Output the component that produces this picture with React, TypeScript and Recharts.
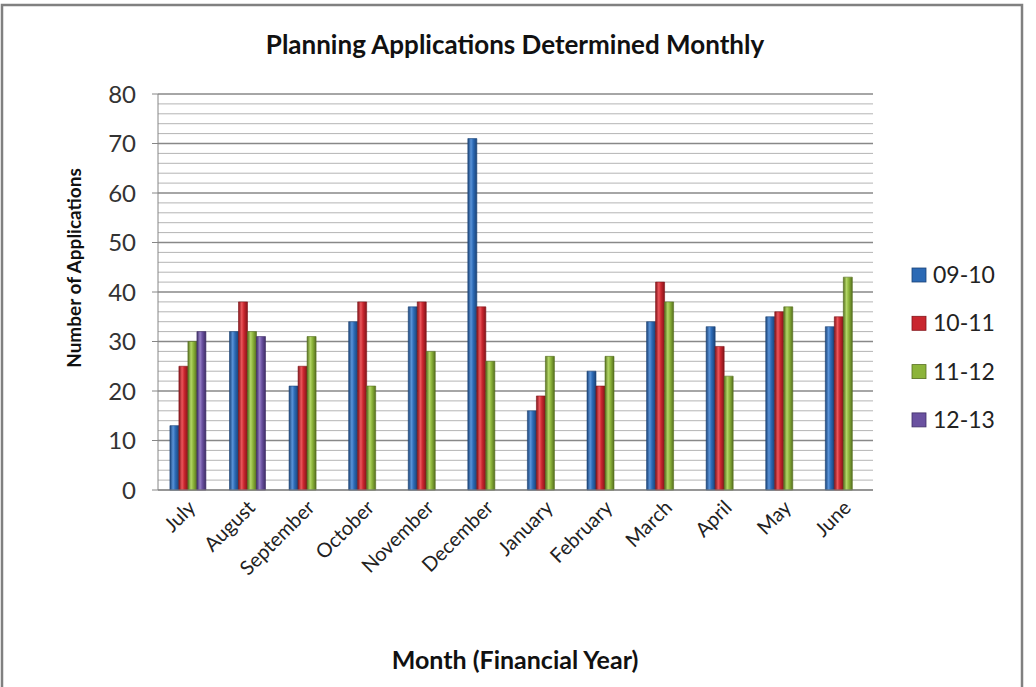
import { BarChart, Bar, XAxis, YAxis, CartesianGrid } from 'recharts'

const months = ['July', 'August', 'September', 'October', 'November', 'December', 'January', 'February', 'March', 'April', 'May', 'June']
const fy0910 = [13, 32, 21, 34, 37, 71, 16, 24, 34, 33, 35, 33]
const fy1011 = [25, 38, 25, 38, 38, 37, 19, 21, 42, 29, 36, 35]
const fy1112 = [30, 32, 31, 21, 28, 26, 27, 27, 38, 23, 37, 43]
const fy1213 = [32, 31, null, null, null, null, null, null, null, null, null, null]
const seriesNames = ['09-10', '10-11', '11-12', '12-13']
const yTicks = [0, 10, 20, 30, 40, 50, 60, 70, 80]
const minorLines = [2, 4, 6, 8, 12, 14, 16, 18, 22, 24, 26, 28, 32, 34, 36, 38, 42, 44, 46, 48, 52, 54, 56, 58, 62, 64, 66, 68, 72, 74, 76, 78]

const FONT = 'Lato, "Open Sans", sans-serif'
const colors = ['#2c6ab5', '#c9262e', '#8cb43a', '#6a51a0']
const darks = ['#1b4377', '#83141a', '#566f1f', '#3f2e66']
const lights = ['#5a93d8', '#ea565b', '#b2d566', '#9580c6']

const data = months.map((m, i) => ({
  month: m,
  a: fy0910[i],
  b: fy1011[i],
  c: fy1112[i],
  d: fy1213[i],
}))
const keys = ['a', 'b', 'c', 'd']

const MonthTick = ({ x, y, payload }: any) => (
  <g transform={`translate(${x + 4},${y + 14})`}>
    <text transform="rotate(-45)" textAnchor="end" dy="0.35em" fontSize={20} fill="#222" fontFamily={FONT}>
      {payload.value}
    </text>
  </g>
)

export default function App() {
  return (
    <div style={{ position: 'absolute', left: 0, top: 0, width: 1036, height: 687, background: '#fff', overflow: 'hidden' }}>
      <BarChart
        width={1036}
        height={687}
        data={data}
        margin={{ top: 94, right: 163, bottom: 0, left: 0 }}
        barCategoryGap="20%"
        barGap={0}
      >
        <defs>
          {keys.map((k, i) => (
            <linearGradient key={k} id={`g-${k}`} x1="0" y1="0" x2="1" y2="0">
              <stop offset="0%" stopColor={darks[i]} />
              <stop offset="35%" stopColor={lights[i]} />
              <stop offset="60%" stopColor={colors[i]} />
              <stop offset="100%" stopColor={darks[i]} />
            </linearGradient>
          ))}
        </defs>
        <CartesianGrid vertical={false} horizontalValues={minorLines} stroke="#b4b4b4" strokeWidth={1} />
        <CartesianGrid vertical={false} horizontalValues={yTicks} stroke="#888" strokeWidth={1.5} />
        <XAxis
          dataKey="month"
          interval={0}
          tick={<MonthTick />}
          tickLine={false}
          tickSize={0}
          tickMargin={0}
          axisLine={{ stroke: '#868686' }}
          height={197}
        />
        <YAxis
          domain={[0, 80]}
          ticks={yTicks}
          interval={0}
          width={158}
          tickSize={6}
          tickMargin={16}
          tick={{ fontSize: 24, fill: '#333', fontFamily: FONT }}
          tickLine={{ stroke: '#868686' }}
          axisLine={{ stroke: '#868686' }}
        />
        {keys.map((k, i) => (
          <Bar key={k} dataKey={k} name={seriesNames[i]} fill={`url(#g-${k})`} stroke={darks[i]} strokeWidth={0.6} isAnimationActive={false} />
        ))}
      </BarChart>
      <svg width={1036} height={687} style={{ position: 'absolute', left: 0, top: 0, pointerEvents: 'none' }}>
        <rect x={2} y={5} width={1020} height={690} fill="none" stroke="#808080" strokeWidth={2.5} />
        <text x={515} y={54} textAnchor="middle" fontSize={26} fontWeight="bold" fill="#111" fontFamily={FONT}>
          Planning Applications Determined Monthly
        </text>
        <text transform="translate(81,268) rotate(-90)" textAnchor="middle" fontSize={19} fontWeight="bold" fill="#111" fontFamily={FONT}>
          Number of Applications
        </text>
        <text x={515} y={669} textAnchor="middle" fontSize={25} fontWeight="bold" fill="#111" fontFamily={FONT}>
          Month (Financial Year)
        </text>
        {seriesNames.map((s, i) => (
          <g key={s} transform={`translate(912,${275 + i * 48.3})`}>
            <rect x={0} y={-7} width={14} height={14} fill={colors[i]} stroke={darks[i]} strokeWidth={0.8} />
            <text x={21} y={0} dy="0.35em" fontSize={23} fill="#222" fontFamily={FONT}>
              {s}
            </text>
          </g>
        ))}
      </svg>
    </div>
  )
}
